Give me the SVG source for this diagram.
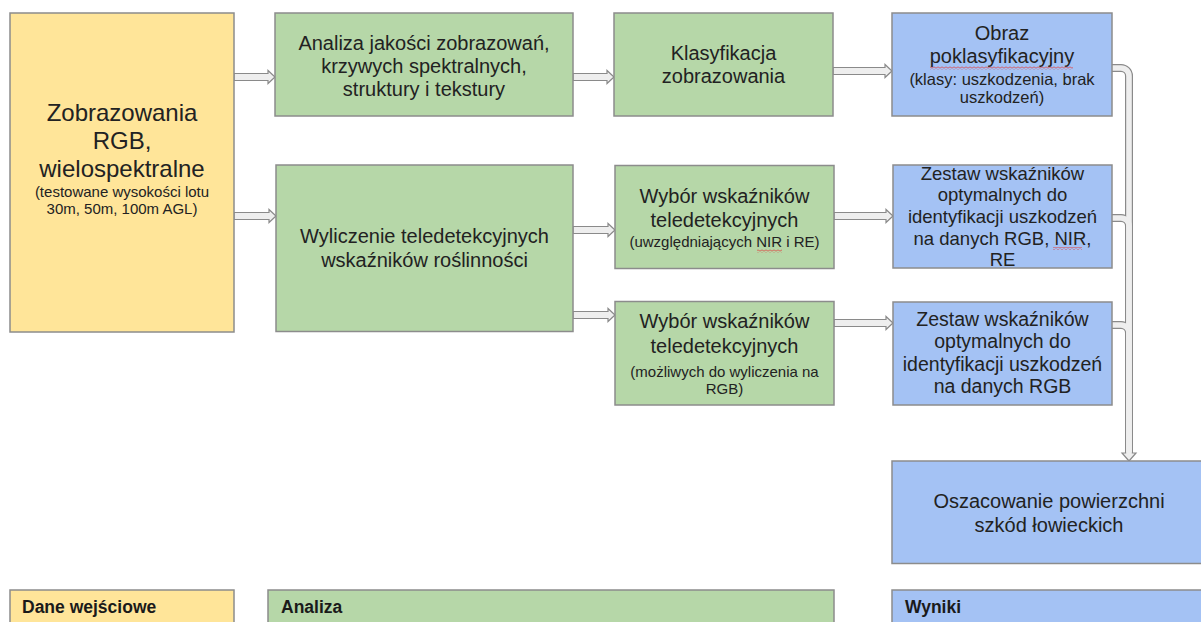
<svg xmlns="http://www.w3.org/2000/svg" width="1201" height="622" viewBox="0 0 1201 622">
<style>
text{font-family:"Liberation Sans",Arial,sans-serif;fill:#222;text-anchor:middle}
.y{fill:#ffe599;stroke:#8c8c8c;stroke-width:1.5}
.g{fill:#b6d7a8;stroke:#8c8c8c;stroke-width:1.5}
.b{fill:#a4c2f4;stroke:#8c8c8c;stroke-width:1.5}
.f24{font-size:24px}.f20{font-size:20px}.f15{font-size:15px}.f16{font-size:16.5px}.f18{font-size:18.5px}.f19{font-size:19.5px}
.lg{font-size:17.5px;font-weight:bold;text-anchor:start;fill:#1a1a1a}
.arr{fill:#eeeeee;stroke:#8a8a8a;stroke-width:1.2;stroke-linejoin:miter}
.eo{fill:none;stroke:#8a8a8a;stroke-width:8}
.ei{fill:none;stroke:#eeeeee;stroke-width:5.6}
.sq{fill:url(#squig)}
</style>
<defs>
<pattern id="squig" width="4" height="3" patternUnits="userSpaceOnUse">
<path d="M0,2.5 L2,0.5 L4,2.5" fill="none" stroke="#e04040" stroke-width="1"/>
</pattern>
</defs>
<rect width="1201" height="622" fill="#ffffff"/>

<g id="connectors">
<polygon class="arr" points="234,73.5 268,73.5 268,70.5 275,77 268,83.5 268,80.5 234,80.5"/>
<polygon class="arr" points="234,212.5 269,212.5 269,209.5 276,216 269,222.5 269,219.5 234,219.5"/>
<polygon class="arr" points="573,73.5 607,73.5 607,70.5 614,77 607,83.5 607,80.5 573,80.5"/>
<polygon class="arr" points="833,67.5 885,67.5 885,64.5 892,71 885,77.5 885,74.5 833,74.5"/>
<polygon class="arr" points="573,226.5 608,226.5 608,223.5 615,230 608,236.5 608,233.5 573,233.5"/>
<polygon class="arr" points="573,311.5 608,311.5 608,308.5 615,315 608,321.5 608,318.5 573,318.5"/>
<polygon class="arr" points="834,212.5 886,212.5 886,209.5 893,216 886,222.5 886,219.5 834,219.5"/>
<polygon class="arr" points="834,319.5 886,319.5 886,316.5 893,323 886,329.5 886,326.5 834,326.5"/>
<path class="eo" d="M1112,68 H1121 A8,8 0 0 1 1129,76 V454"/>
<path class="eo" d="M1112,218 H1121 A8,8 0 0 1 1129,226 V454"/>
<path class="eo" d="M1112,325 H1121 A8,8 0 0 1 1129,333 V454"/>
<path class="ei" d="M1112,68 H1121 A8,8 0 0 1 1129,76 V455"/>
<path class="ei" d="M1112,218 H1121 A8,8 0 0 1 1129,226 V455"/>
<path class="ei" d="M1112,325 H1121 A8,8 0 0 1 1129,333 V455"/>
<path class="arr" d="M1126.2,453 H1122 L1129,461 L1136,453 H1131.8"/>
</g>

<g id="n-input">
<rect class="y" x="10" y="13" width="224" height="319"/>
<text class="f24" x="122" y="121">Zobrazowania</text>
<text class="f24" x="122" y="149">RGB,</text>
<text class="f24" x="122" y="177">wielospektralne</text>
<text class="f15" x="122" y="197">(testowane wysokości lotu</text>
<text class="f15" x="122" y="214">30m, 50m, 100m AGL)</text>
</g>

<g id="n-analiza-jakosci">
<rect class="g" x="275" y="13" width="298" height="103"/>
<text class="f20" x="424" y="50">Analiza jakości zobrazowań,</text>
<text class="f20" x="424" y="73">krzywych spektralnych,</text>
<text class="f20" x="424" y="96">struktury i tekstury</text>
</g>

<g id="n-klasyfikacja">
<rect class="g" x="614" y="13" width="219" height="103"/>
<text class="f20" x="723.5" y="60">Klasyfikacja</text>
<text class="f20" x="723.5" y="83">zobrazowania</text>
</g>

<g id="n-obraz">
<rect class="b" x="892" y="13" width="220" height="103"/>
<text class="f20" x="1002" y="40">Obraz</text>
<text class="f20" x="1002" y="63">poklasyfikacyjny</text>
<rect class="sq" x="930" y="66.5" width="143" height="3"/>
<text class="f16" x="1002" y="85">(klasy: uszkodzenia, brak</text>
<text class="f16" x="1002" y="103">uszkodzeń)</text>
</g>

<g id="n-wyliczenie">
<rect class="g" x="276" y="165" width="297" height="166.5"/>
<text class="f20" x="424.5" y="243">Wyliczenie teledetekcyjnych</text>
<text class="f20" x="424.5" y="267">wskaźników roślinności</text>
</g>

<g id="n-wybor1">
<rect class="g" x="615" y="165.5" width="219" height="103"/>
<text class="f20" x="724.5" y="203">Wybór wskaźników</text>
<text class="f20" x="724.5" y="227">teledetekcyjnych</text>
<text class="f15" x="724.5" y="247">(uwzględniających NIR i RE)</text>
<rect class="sq" x="757" y="249.5" width="25" height="3"/>
</g>

<g id="n-wybor2">
<rect class="g" x="615" y="301.5" width="219" height="103.5"/>
<text class="f20" x="724.5" y="328">Wybór wskaźników</text>
<text class="f20" x="724.5" y="353">teledetekcyjnych</text>
<text class="f15" x="724.5" y="377">(możliwych do wyliczenia na</text>
<text class="f15" x="724.5" y="394">RGB)</text>
</g>

<g id="n-zestaw1">
<rect class="b" x="893" y="165" width="219" height="103"/>
<text class="f18" x="1002.5" y="180">Zestaw wskaźników</text>
<text class="f18" x="1002.5" y="201">optymalnych do</text>
<text class="f18" x="1002.5" y="223">identyfikacji uszkodzeń</text>
<text class="f18" x="1002.5" y="245">na danych RGB, NIR,</text>
<rect class="sq" x="1053" y="247" width="29" height="3"/>
<text class="f18" x="1002.5" y="266">RE</text>
</g>

<g id="n-zestaw2">
<rect class="b" x="893" y="302" width="219" height="103"/>
<text class="f19" x="1002.5" y="326">Zestaw wskaźników</text>
<text class="f19" x="1002.5" y="348">optymalnych do</text>
<text class="f19" x="1002.5" y="371">identyfikacji uszkodzeń</text>
<text class="f19" x="1002.5" y="393">na danych RGB</text>
</g>

<g id="n-oszacowanie">
<rect class="b" x="892" y="461" width="316" height="102.5"/>
<text class="f20" x="1049" y="508">Oszacowanie powierzchni</text>
<text class="f20" x="1049" y="532">szkód łowieckich</text>
</g>

<g id="legend-dane">
<rect class="y" x="10" y="590" width="224" height="40"/>
<text class="lg" x="22" y="613">Dane wejściowe</text>
</g>
<g id="legend-analiza">
<rect class="g" x="268" y="590" width="566" height="40"/>
<text class="lg" x="281" y="613">Analiza</text>
</g>
<g id="legend-wyniki">
<rect class="b" x="892" y="590" width="316" height="40"/>
<text class="lg" x="905" y="613">Wyniki</text>
</g>
</svg>
